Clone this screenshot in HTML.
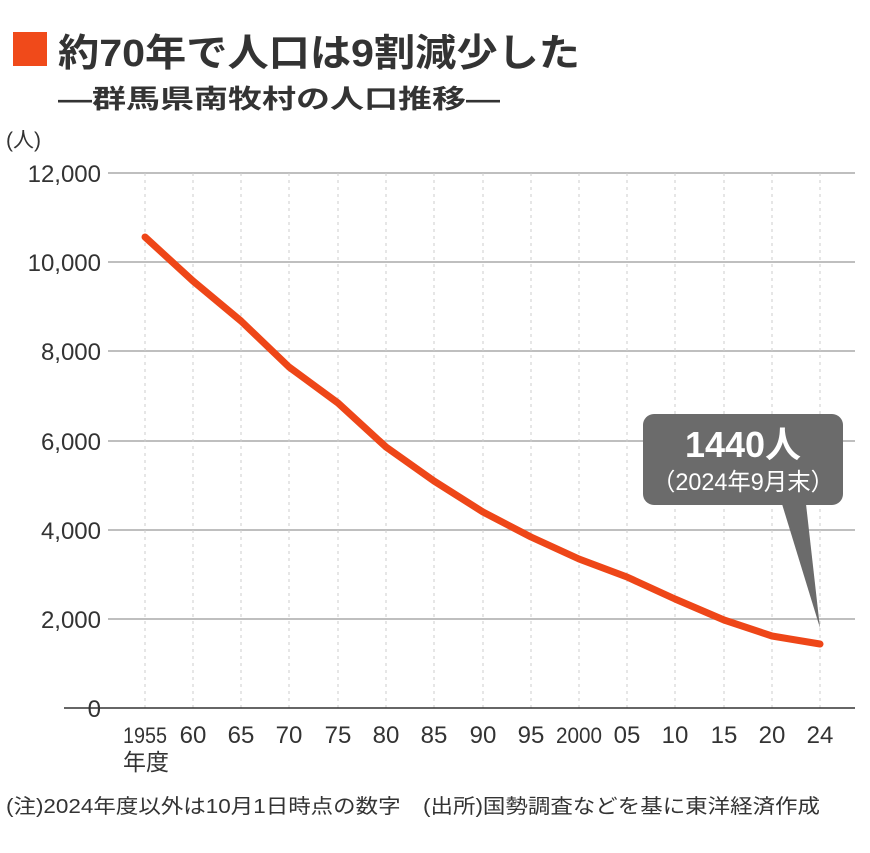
<!DOCTYPE html>
<html><head><meta charset="utf-8"><style>
body{margin:0;background:#fff}
svg text{font-family:"Liberation Sans","Noto Sans CJK JP",sans-serif}
</style></head><body>
<svg width="870" height="848" viewBox="0 0 870 848" xmlns="http://www.w3.org/2000/svg">
<rect x="13" y="32" width="34" height="34" fill="#f04a1a"/>
<text x="58" y="66" font-size="38" font-weight="bold" fill="#333" textLength="522" lengthAdjust="spacingAndGlyphs">約70年で人口は9割減少した</text>
<text x="58" y="108" font-size="26" font-weight="bold" fill="#333" textLength="442" lengthAdjust="spacingAndGlyphs">―群馬県南牧村の人口推移―</text>
<text x="6" y="147" font-size="21" fill="#333">(人)</text>
<g stroke="#aaa" stroke-width="1.5">
<line x1="108" y1="173" x2="855" y2="173"/><line x1="108" y1="262" x2="855" y2="262"/>
<line x1="108" y1="351" x2="855" y2="351"/><line x1="108" y1="441" x2="855" y2="441"/>
<line x1="108" y1="530" x2="855" y2="530"/><line x1="108" y1="619" x2="855" y2="619"/>
</g>
<g stroke="#ccc" stroke-width="1" stroke-dasharray="3,4">
<line x1="145" y1="173" x2="145" y2="708"/><line x1="193" y1="173" x2="193" y2="708"/><line x1="241" y1="173" x2="241" y2="708"/><line x1="289" y1="173" x2="289" y2="708"/><line x1="338" y1="173" x2="338" y2="708"/><line x1="386" y1="173" x2="386" y2="708"/><line x1="434" y1="173" x2="434" y2="708"/><line x1="483" y1="173" x2="483" y2="708"/><line x1="531" y1="173" x2="531" y2="708"/><line x1="579" y1="173" x2="579" y2="708"/><line x1="627" y1="173" x2="627" y2="708"/><line x1="675" y1="173" x2="675" y2="708"/><line x1="724" y1="173" x2="724" y2="708"/><line x1="772" y1="173" x2="772" y2="708"/><line x1="820" y1="173" x2="820" y2="708"/>
</g>
<line x1="64" y1="708" x2="855" y2="708" stroke="#333" stroke-width="1.5"/>
<g font-size="24" fill="#333" text-anchor="end">
<text x="101" y="182">12,000</text><text x="101" y="271">10,000</text><text x="101" y="360">8,000</text><text x="101" y="450">6,000</text><text x="101" y="539">4,000</text><text x="101" y="628">2,000</text><text x="101" y="717">0</text>
</g>
<g font-size="24" fill="#333" text-anchor="middle">
<text x="145" y="743" font-size="22" textLength="44" lengthAdjust="spacingAndGlyphs">1955</text>
<text x="193" y="743">60</text><text x="241" y="743">65</text><text x="289" y="743">70</text><text x="338" y="743">75</text><text x="386" y="743">80</text><text x="434" y="743">85</text><text x="483" y="743">90</text><text x="531" y="743">95</text>
<text x="579" y="743" font-size="22" textLength="46" lengthAdjust="spacingAndGlyphs">2000</text>
<text x="627" y="743">05</text><text x="675" y="743">10</text><text x="724" y="743">15</text><text x="772" y="743">20</text><text x="820" y="743">24</text>
</g>
<text x="123" y="770" font-size="23" fill="#333">年度</text>
<text x="6" y="813" font-size="20" fill="#333" textLength="814" lengthAdjust="spacingAndGlyphs">(注)2024年度以外は10月1日時点の数字　(出所)国勢調査などを基に東洋経済作成</text>
<polyline fill="none" stroke="#ee4618" stroke-width="7" stroke-linecap="round" stroke-linejoin="round"
points="145,237 193,281 241,321 289,367 338,403 386,447 434,481 483,512 531,537 579,559 627,577 675,599 724,620 772,636 820,644"/>
<rect x="643" y="414" width="200" height="91" rx="11" fill="#6b6b6b"/>
<polygon points="782,504 806,504 820,628" fill="#6b6b6b"/>
<text x="743" y="457" font-size="36" font-weight="bold" fill="#fff" text-anchor="middle">1440人</text>
<text x="743" y="490" font-size="24" fill="#fff" text-anchor="middle" textLength="182" lengthAdjust="spacingAndGlyphs">（2024年9月末）</text>
</svg>
</body></html>
